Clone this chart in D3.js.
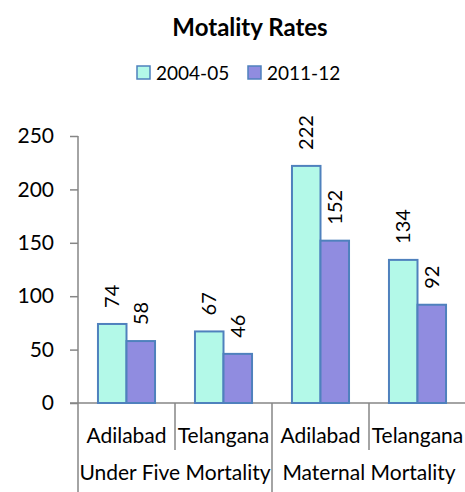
<!DOCTYPE html>
<html>
<head>
<meta charset="utf-8">
<script src="https://cdn.jsdelivr.net/npm/d3@7"></script>
<style>
body { margin: 0; background: #fff; }
text { font-family: Lato, "Open Sans", sans-serif; fill: #000; }
</style>
</head>
<body>
<div id="chart"></div>
<script>
var svgWidth = 465;
var svgHeight = 492;

var categories = ["Adilabad", "Telangana", "Adilabad", "Telangana"];
var groups = ["Under Five Mortality", "Maternal Mortality"];
var series = ["2004-05", "2011-12"];
var values2004 = [74, 67, 222, 134];
var values2011 = [58, 46, 152, 92];
var yTicks = [0, 50, 100, 150, 200, 250];
var colors = ["#b3f9e8", "#908ce0"];

var plot = { left: 78, right: 466, top: 136, bottom: 403 };

var svg = d3.select("#chart")
	.append("svg")
	.attr("width", svgWidth)
	.attr("height", svgHeight);

var x0 = d3.scaleBand()
	.domain(d3.range(categories.length))
	.range([plot.left, plot.right]);

var x1 = d3.scaleBand()
	.domain(series)
	.range([0, x0.bandwidth()])
	.paddingOuter(0.7);

var y = d3.scaleLinear()
	.domain([0, 250])
	.range([plot.bottom, plot.top]);

// title
svg.append("text")
	.attr("x", 250)
	.attr("y", 36)
	.attr("text-anchor", "middle")
	.style("font-weight", "bold")
	.style("font-size", "24px")
	.text("Motality Rates");

// legend
var legendX = [137, 248];
series.forEach(function(s, i) {
	svg.append("rect")
		.attr("x", legendX[i])
		.attr("y", 66)
		.attr("width", 13)
		.attr("height", 13)
		.attr("fill", colors[i])
		.attr("stroke", "#4f81bd")
		.attr("stroke-width", 1.5);
	svg.append("text")
		.attr("x", legendX[i] + 19)
		.attr("y", 80)
		.style("font-size", "19px")
		.text(s);
});

// y axis
var yAxis = svg.append("g")
	.attr("transform", `translate(${plot.left},0)`)
	.call(d3.axisLeft(y).tickValues(yTicks).tickSize(8).tickPadding(16));
yAxis.select(".domain").remove();
yAxis.selectAll("line").attr("stroke", "#868686").attr("stroke-width", 1.5);
yAxis.selectAll("text")
	.style("font-size", "21px")
	.style("font-family", "Lato, sans-serif");

svg.append("line")
	.attr("x1", plot.left).attr("x2", plot.left)
	.attr("y1", plot.top).attr("y2", svgHeight)
	.attr("stroke", "#868686").attr("stroke-width", 1.5);

// x axis line
svg.append("line")
	.attr("x1", plot.left - 8).attr("x2", svgWidth)
	.attr("y1", plot.bottom).attr("y2", plot.bottom)
	.attr("stroke", "#868686").attr("stroke-width", 1.5);

// category dividers
d3.range(1, categories.length + 1).forEach(function(i) {
	var xPos = x0.step() * i + plot.left;
	var long = i % 2 === 0;
	svg.append("line")
		.attr("x1", xPos).attr("x2", xPos)
		.attr("y1", plot.bottom)
		.attr("y2", long ? svgHeight : 450)
		.attr("stroke", "#868686").attr("stroke-width", 1.5);
});

// category labels
svg.selectAll(".cat")
	.data(categories)
	.enter()
	.append("text")
	.attr("x", (d, i) => x0(i) + x0.bandwidth() / 2)
	.attr("y", 443)
	.attr("text-anchor", "middle")
	.style("font-size", "21px")
	.text(d => d);

svg.selectAll(".grp")
	.data(groups)
	.enter()
	.append("text")
	.attr("x", (d, i) => x0(i * 2) + x0.bandwidth())
	.attr("y", 480)
	.attr("text-anchor", "middle")
	.style("font-size", "21px")
	.text(d => d);

// bars
var data = categories.map(function(c, i) {
	return [values2004[i], values2011[i]];
});

var barGroups = svg.selectAll(".bars")
	.data(data)
	.enter()
	.append("g")
	.attr("transform", (d, i) => `translate(${x0(i)},0)`);

barGroups.selectAll("rect")
	.data(d => d.map((v, j) => ({ key: series[j], value: v, idx: j })))
	.enter()
	.append("rect")
	.attr("x", d => x1(d.key))
	.attr("y", d => y(d.value))
	.attr("width", x1.bandwidth())
	.attr("height", d => plot.bottom - y(d.value))
	.attr("fill", d => colors[d.idx])
	.attr("stroke", "#4f81bd")
	.attr("stroke-width", 2);

barGroups.selectAll(".lbl")
	.data(d => d.map((v, j) => ({ key: series[j], value: v })))
	.enter()
	.append("text")
	.attr("transform", d => `translate(${x1(d.key) + x1.bandwidth() / 2},${y(d.value) - 16}) rotate(-90)`)
	.attr("dy", "0.35em")
	.style("font-size", "20px")
	.text(d => d.value);
</script>
</body>
</html>
